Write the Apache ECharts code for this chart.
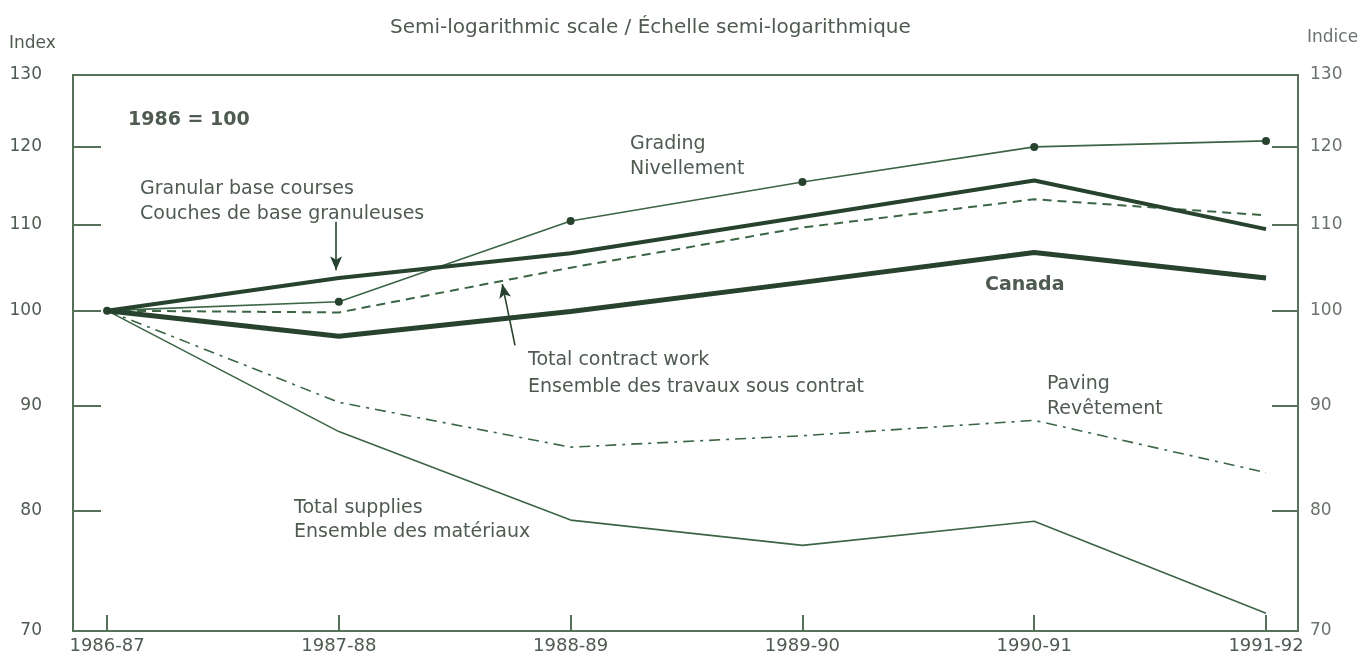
<!DOCTYPE html>
<html>
<head>
<meta charset="utf-8">
<script src="https://cdn.jsdelivr.net/npm/echarts@6/dist/echarts.min.js"></script>
<style>
html,body{margin:0;padding:0;background:#fff;}
#chart{width:1369px;height:668px;}
</style>
</head>
<body>
<div id="chart"></div>
<script>
const categories = ['1986-87','1987-88','1988-89','1989-90','1990-91','1991-92'];
const yTicks = [70, 80, 90, 100, 110, 120, 130];
const canada = [100, 97.2, 99.9, 103.2, 106.7, 103.7];
const granular = [100, 103.7, 106.6, 111.0, 115.6, 109.5];
const grading = [100, 101.0, 110.5, 115.4, 120.0, 120.8];
const contractWork = [100, 99.8, 104.9, 109.7, 113.2, 111.2];
const paving = [100, 90.3, 85.9, 87.0, 88.5, 83.5];
const supplies = [100, 87.4, 79.2, 77.0, 79.1, 71.4];

const FONT = 'DejaVu Sans';
const TEXT = '#4f5a51';
const FRAME = '#56705a';
const THIN = '#3b6545';
const THICK = '#27432e';

function pts(arr){ return arr.map((v,i)=>[i,v]); }

const chart = echarts.init(document.getElementById('chart'), null, {renderer:'canvas'});

function txt(x, y, s, bold){
  return {type:'text', left:x, top:y, style:{text:s, font:(bold?'bold ':'')+'19px "'+FONT+'"', fill:TEXT}};
}

const option = {
  animation:false,
  backgroundColor:'#fff',
  grid:{left:73, right:71, top:75, bottom:37, show:true, borderColor:FRAME, borderWidth:2, backgroundColor:'transparent'},
  xAxis:{
    type:'value', min:-0.147, max:5.138,
    axisLine:{show:true, onZero:false, lineStyle:{color:FRAME, width:2}},
    axisTick:{show:true, inside:true, length:16, customValues:[0,1,2,3,4,5], lineStyle:{color:FRAME, width:2}},
    axisLabel:{customValues:[0,1,2,3,4,5], formatter:v=>categories[Math.round(v)], margin:6, color:TEXT, fontFamily:FONT, fontSize:18},
    splitLine:{show:false}
  },
  yAxis:[
    {type:'log', position:'left', min:70, max:130,
     axisLine:{show:true, onZero:false, lineStyle:{color:FRAME, width:2}},
     axisTick:{show:true, inside:true, length:28, customValues:yTicks, lineStyle:{color:FRAME, width:2}},
     axisLabel:{customValues:yTicks, margin:31, color:TEXT, fontFamily:FONT, fontSize:17},
     splitLine:{show:false}},
    {type:'log', position:'right', min:70, max:130,
     axisLine:{show:true, onZero:false, lineStyle:{color:FRAME, width:2}},
     axisTick:{show:true, inside:true, length:26, customValues:yTicks, lineStyle:{color:FRAME, width:2}},
     axisLabel:{customValues:yTicks, margin:12, color:'#6a736b', fontFamily:FONT, fontSize:17},
     splitLine:{show:false}}
  ],
  series:[
    {name:'Total supplies', type:'line', data:pts(supplies), symbol:'none', lineStyle:{color:THIN, width:1.6}},
    {name:'Paving', type:'line', data:pts(paving), symbol:'none', lineStyle:{color:THIN, width:1.6, type:[11,6,3,6]}},
    {name:'Total contract work', type:'line', data:pts(contractWork), symbol:'none', lineStyle:{color:THIN, width:2, type:[9,6]},
     markLine:{silent:true, symbol:['none','arrow'], symbolSize:[9,14], label:{show:false},
       lineStyle:{color:THICK, width:1.6, type:'solid'},
       data:[[{coord:[1.76,96.2]},{coord:[1.705,103.0]}]]}},
    {name:'Grading', type:'line', data:pts(grading), symbol:'circle', symbolSize:8, itemStyle:{color:THICK}, lineStyle:{color:THIN, width:1.6}},
    {name:'Granular base courses', type:'line', data:pts(granular), symbol:'none', lineStyle:{color:THICK, width:4},
     markLine:{silent:true, symbol:['none','arrow'], symbolSize:[9,14], label:{show:false},
       lineStyle:{color:THICK, width:1.6, type:'solid'},
       data:[[{coord:[0.988,110.4]},{coord:[0.988,104.6]}]]}},
    {name:'Canada', type:'line', data:pts(canada), symbol:'none', lineStyle:{color:THICK, width:5}, z:5}
  ],
  graphic:[
    {type:'text', left:390, top:18, style:{text:'Semi-logarithmic scale / Échelle semi-logarithmique', font:'20px "'+FONT+'"', fill:TEXT}},
    {type:'text', left:9, top:35, style:{text:'Index', font:'17px "'+FONT+'"', fill:TEXT}},
    {type:'text', left:1307, top:29, style:{text:'Indice', font:'17px "'+FONT+'"', fill:'#6a736b'}},
    txt(128, 111, '1986 = 100', true),
    txt(630, 135, 'Grading'),
    txt(630, 160, 'Nivellement'),
    txt(140, 180, 'Granular base courses'),
    txt(140, 205, 'Couches de base granuleuses'),
    txt(528, 351, 'Total contract work'),
    txt(528, 378, 'Ensemble des travaux sous contrat'),
    txt(985, 276, 'Canada', true),
    txt(1047, 375, 'Paving'),
    txt(1047, 400, 'Revêtement'),
    txt(294, 499, 'Total supplies'),
    txt(294, 523, 'Ensemble des matériaux')
  ]
};
chart.setOption(option);
</script>
</body>
</html>
